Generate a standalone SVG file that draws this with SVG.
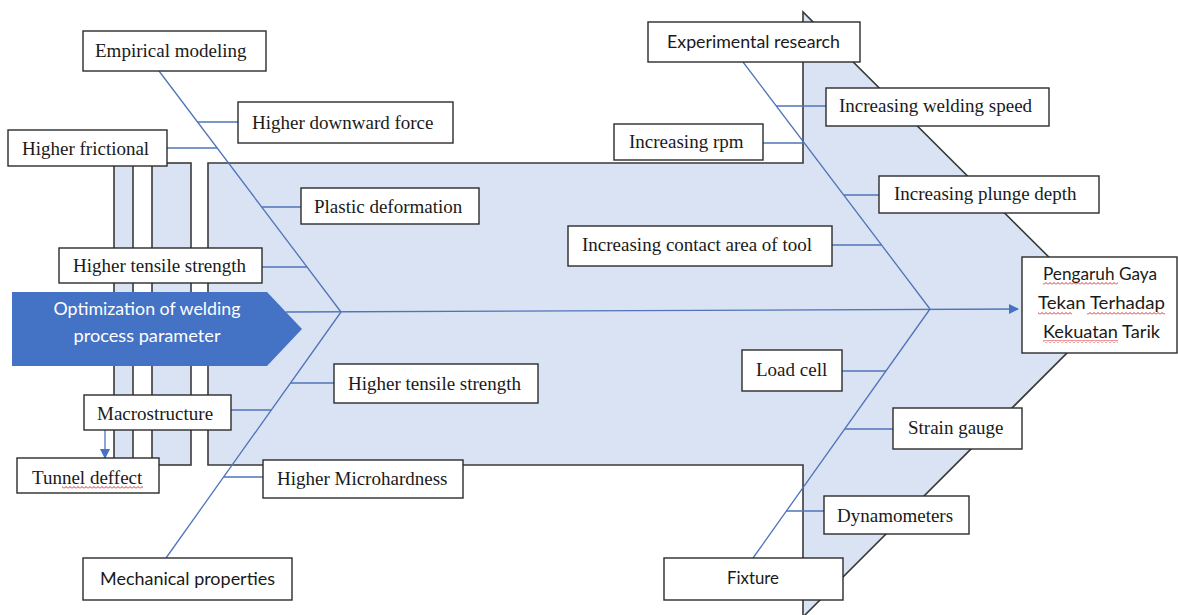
<svg xmlns="http://www.w3.org/2000/svg" width="1178" height="615" viewBox="0 0 1178 615">
<style>
.bg{fill:#fff}
.arrow{fill:#dae3f3;stroke:#3a3a3a;stroke-width:1.6}
.stripe{fill:#dae3f3;stroke:#3a3a3a;stroke-width:1.6}
.ln{stroke:#4f74b8;stroke-width:1.3;fill:none}
.box{fill:#fff;stroke:#2b2b2b;stroke-width:1.4}
.t{font-family:"Liberation Serif","Times New Roman",serif;font-size:19px;fill:#1a1a1a}
.s{font-family:Lato,"Liberation Sans",Arial,sans-serif;font-size:18px;fill:#1a1a1a;text-anchor:middle}
.w{font-family:Lato,"Liberation Sans",Arial,sans-serif;font-size:17.5px;fill:#fff;text-anchor:middle}
.sq{fill:url(#squig)}
</style>
<defs>
<marker id="ah" viewBox="0 0 10 10" refX="9" refY="5" markerWidth="10" markerHeight="10" markerUnits="userSpaceOnUse" orient="auto">
<path d="M0,0 L10,5 L0,10 z" fill="#4472c4"/>
</marker>
<pattern id="squig" patternUnits="userSpaceOnUse" width="4" height="3">
<path d="M0,2.5 L2,0.5 L4,2.5" stroke="#d01818" stroke-width="0.9" fill="none"/>
</pattern>
</defs>
<rect class="bg" x="0" y="0" width="1178" height="615"/>

<g id="big-arrow">
<polygon class="arrow" points="208,163 803,163 803,12 1106,314 803,617 803,465 208,465"/>
<rect class="stripe" x="114" y="163" width="19" height="302"/>
<rect class="stripe" x="152" y="163" width="39" height="302"/>
</g>

<g id="connectors">
<line class="ln" x1="286" y1="312" x2="1018" y2="309" marker-end="url(#ah)"/>
<line class="ln" x1="159" y1="71" x2="341" y2="312"/>
<line class="ln" x1="166" y1="558" x2="341" y2="312"/>
<line class="ln" x1="743" y1="62" x2="930" y2="309"/>
<line class="ln" x1="753" y1="558" x2="930" y2="309"/>
<line class="ln" x1="197.5" y1="122" x2="238" y2="122"/>
<line class="ln" x1="167" y1="148" x2="217" y2="148"/>
<line class="ln" x1="262" y1="207" x2="301" y2="207"/>
<line class="ln" x1="262" y1="267" x2="307" y2="267"/>
<line class="ln" x1="290.5" y1="383" x2="334" y2="383"/>
<line class="ln" x1="231" y1="410" x2="271" y2="410"/>
<line class="ln" x1="223.6" y1="477" x2="263" y2="477"/>
<line class="ln" x1="776" y1="106" x2="826" y2="106"/>
<line class="ln" x1="763" y1="143" x2="804" y2="143"/>
<line class="ln" x1="844" y1="195" x2="879" y2="195"/>
<line class="ln" x1="832" y1="245" x2="881.5" y2="245"/>
<line class="ln" x1="842" y1="371" x2="886" y2="371"/>
<line class="ln" x1="845" y1="429" x2="893" y2="429"/>
<line class="ln" x1="786" y1="511" x2="824" y2="511"/>
<line class="ln" x1="105" y1="430" x2="105" y2="458" marker-end="url(#ah)"/>
</g>

<g id="head">
<polygon points="12,292 267,292 302,329 267,366 12,366" fill="#4472c4"/>
<text class="w" x="147" y="315" textLength="187" lengthAdjust="spacingAndGlyphs">Optimization of welding</text>
<text class="w" x="147" y="342" textLength="147" lengthAdjust="spacingAndGlyphs">process parameter</text>
</g>

<g id="n-empirical"><rect class="box" x="83" y="31" width="183" height="40"/><text class="t" x="95" y="57">Empirical modeling</text></g>
<g id="n-downward"><rect class="box" x="238" y="102" width="215" height="41"/><text class="t" x="252" y="129">Higher downward force</text></g>
<g id="n-frictional"><rect class="box" x="8" y="130" width="159" height="36"/><text class="t" x="22" y="155">Higher frictional</text></g>
<g id="n-plastic"><rect class="box" x="301" y="188" width="178" height="36"/><text class="t" x="314" y="213">Plastic deformation</text></g>
<g id="n-tensile1"><rect class="box" x="59" y="248" width="203" height="35"/><text class="t" x="73" y="272">Higher tensile strength</text></g>
<g id="n-tensile2"><rect class="box" x="334" y="364" width="204" height="39"/><text class="t" x="348" y="390">Higher tensile strength</text></g>
<g id="n-macro"><rect class="box" x="84" y="395" width="147" height="35"/><text class="t" x="97" y="420">Macrostructure</text></g>
<g id="n-tunnel"><rect class="box" x="17" y="458" width="142" height="35"/><text class="t" x="32" y="484">Tunnel deffect</text><rect class="sq" x="62" y="486" width="81" height="3"/></g>
<g id="n-micro"><rect class="box" x="263" y="460" width="200" height="38"/><text class="t" x="277" y="485">Higher Microhardness</text></g>
<g id="n-mech"><rect class="box" x="83" y="558" width="209" height="42"/><text class="s" x="187.5" y="585" textLength="175" lengthAdjust="spacingAndGlyphs">Mechanical properties</text></g>
<g id="n-exp"><rect class="box" x="648" y="22" width="212" height="40"/><text class="s" x="753.5" y="48" textLength="173" lengthAdjust="spacingAndGlyphs">Experimental research</text></g>
<g id="n-rpm"><rect class="box" x="614" y="124" width="149" height="36"/><text class="t" x="629" y="148">Increasing rpm</text></g>
<g id="n-contact"><rect class="box" x="568" y="226" width="264" height="40"/><text class="t" x="582" y="251">Increasing contact area of tool</text></g>
<g id="n-speed"><rect class="box" x="826" y="88" width="223" height="38"/><text class="t" x="839" y="112">Increasing welding speed</text></g>
<g id="n-plunge"><rect class="box" x="879" y="176" width="220" height="37"/><text class="t" x="894" y="200">Increasing plunge depth</text></g>
<g id="n-load"><rect class="box" x="742" y="350" width="100" height="41"/><text class="t" x="756" y="376">Load cell</text></g>
<g id="n-strain"><rect class="box" x="893" y="408" width="129" height="41"/><text class="t" x="908" y="434">Strain gauge</text></g>
<g id="n-dyna"><rect class="box" x="824" y="496" width="145" height="38"/><text class="t" x="837" y="522">Dynamometers</text></g>
<g id="n-fixture"><rect class="box" x="664" y="558" width="179" height="42"/><text class="s" x="753" y="584" textLength="52" lengthAdjust="spacingAndGlyphs">Fixture</text></g>
<g id="n-result">
<rect class="box" x="1022" y="257" width="155" height="96"/>
<text class="s" x="1100" y="280" textLength="114" lengthAdjust="spacingAndGlyphs">Pengaruh Gaya</text>
<text class="s" x="1101.5" y="309" textLength="127" lengthAdjust="spacingAndGlyphs">Tekan Terhadap</text>
<text class="s" x="1101.5" y="338" textLength="117" lengthAdjust="spacingAndGlyphs">Kekuatan Tarik</text>
<rect class="sq" x="1043" y="282" width="75" height="3"/>
<rect class="sq" x="1038" y="312" width="34" height="3"/>
<rect class="sq" x="1087" y="312" width="78" height="3"/>
<rect class="sq" x="1043" y="340" width="75" height="3"/>
</g>
</svg>
